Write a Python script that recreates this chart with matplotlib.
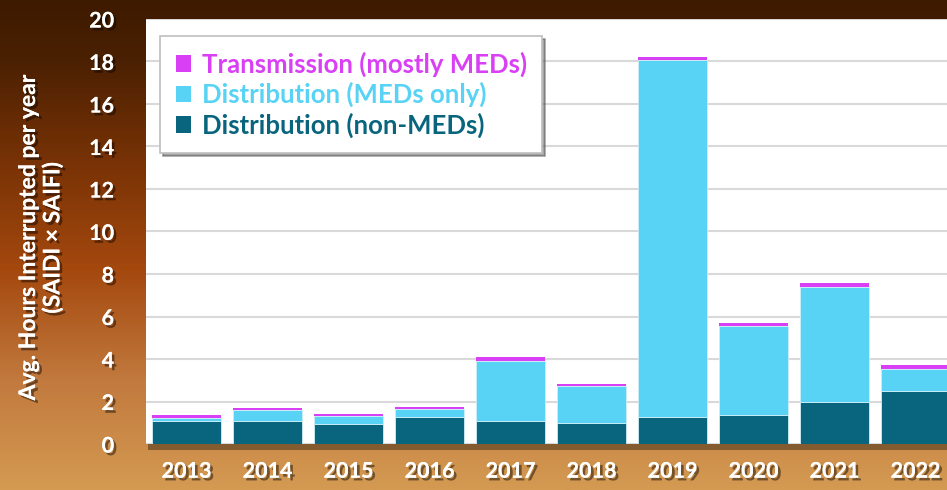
import numpy as np
import matplotlib
matplotlib.use("Agg")
import matplotlib.pyplot as plt
from matplotlib.colors import LinearSegmentedColormap
from matplotlib.patches import Patch, Rectangle
import matplotlib.patheffects as pe

years = ["2013", "2014", "2015", "2016", "2017", "2018", "2019", "2020", "2021", "2022"]
dist_non_med = [1.08, 1.07, 0.96, 1.26, 1.10, 0.97, 1.26, 1.36, 1.96, 2.49]
dist_med = [0.16, 0.55, 0.37, 0.39, 2.81, 1.76, 16.81, 4.21, 5.43, 1.05]
transmission = [0.11, 0.07, 0.10, 0.11, 0.17, 0.11, 0.14, 0.14, 0.17, 0.16]
series_labels = ["Transmission (mostly MEDs)", "Distribution (MEDs only)", "Distribution (non-MEDs)"]
y_ticks = [0, 2, 4, 6, 8, 10, 12, 14, 16, 18, 20]
y_label = "Avg. Hours Interrupted per year\n(SAIDI × SAIFI)"
title_text = "(hours per customer)"

c_non = "#08657d"
c_med = "#58d3f5"
c_tr = "#d93ff5"

plt.rcParams['font.family'] = ['Lato', 'DejaVu Sans']
plt.rcParams['font.weight'] = 'bold'

fig = plt.figure(figsize=(9.47, 4.90), dpi=100)

# gradient background
bg = fig.add_axes([0, 0, 1, 1], zorder=-10)
cmap = LinearSegmentedColormap.from_list("bg", [
    (0.0, "#3e1a00"), (0.12, "#4a2002"), (0.35, "#7c3406"),
    (0.55, "#a4480e"), (0.78, "#c27a3e"), (1.0, "#d49a52")])
grad = np.linspace(0, 1, 256).reshape(-1, 1)
bg.imshow(grad, aspect="auto", cmap=cmap, extent=[0, 1, 0, 1], origin="upper")
bg.axis("off")

L, R, B, T = 146/947, 956/947, 1-444/490, 1-19/490
# shadow under plot area
fig.patches.append(Rectangle((L+0.002, B-0.012), R-L, T-B, transform=fig.transFigure,
                             facecolor="black", alpha=0.35, zorder=-5))
ax = fig.add_axes([L, B, R-L, T-B])
ax.set_facecolor("white")

x = np.arange(len(years))
w = 0.86
bottom2 = np.array(dist_non_med)
bottom3 = bottom2 + np.array(dist_med)
ax.bar(x, dist_non_med, w, color=c_non, edgecolor="#cfeef7", linewidth=0.6, zorder=3)
ax.bar(x, dist_med, w, bottom=bottom2, color=c_med, edgecolor="#cfeef7", linewidth=0.6, zorder=3)
ax.bar(x, transmission, w, bottom=bottom3, color=c_tr, linewidth=0, zorder=3)

ax.set_xlim(-0.5, len(years) - 0.5)
ax.set_ylim(0, 20)
ax.set_yticks(y_ticks)
ax.set_xticks(x)
ax.set_xticklabels(years)
ax.yaxis.grid(True, color="#d9d9d9", linewidth=1.5, zorder=0)
ax.set_axisbelow(True)
for s in ax.spines.values():
    s.set_visible(False)
ax.tick_params(axis="both", length=0, colors="white", labelsize=15.5)
ax.tick_params(axis="y", pad=23)
ax.tick_params(axis="x", pad=12)
shadow = [pe.withSimplePatchShadow(offset=(2, -2), shadow_rgbFace="black", alpha=0.45), pe.Normal()]
for lab in ax.get_xticklabels() + ax.get_yticklabels():
    lab.set_fontweight("bold")
    lab.set_path_effects(shadow)

fig.text(0.043, 0.515, y_label, rotation=90, ha="center", va="center", color="white",
         fontsize=16.5, fontweight="bold", linespacing=1.15, path_effects=shadow)

fig.text(0.58, 1.0 + 0.024, title_text, ha="center", va="center", color="white",
         fontsize=18, fontweight="bold")

handles = [Patch(facecolor=c_tr), Patch(facecolor=c_med), Patch(facecolor=c_non)]
leg = ax.legend(handles, series_labels, loc="upper left", bbox_to_anchor=(0.002, 0.99),
                fancybox=False, shadow=True, edgecolor="#bfbfbf", framealpha=1,
                handlelength=0.6, handleheight=0.6, handletextpad=0.4,
                prop={"size": 18.5, "weight": "bold"}, labelspacing=0.2,
                borderpad=0.6)
for txt, c in zip(leg.get_texts(), [c_tr, c_med, c_non]):
    txt.set_color(c)
leg.get_frame().set_linewidth(1.2)

fig.savefig("out.png", dpi=100)
